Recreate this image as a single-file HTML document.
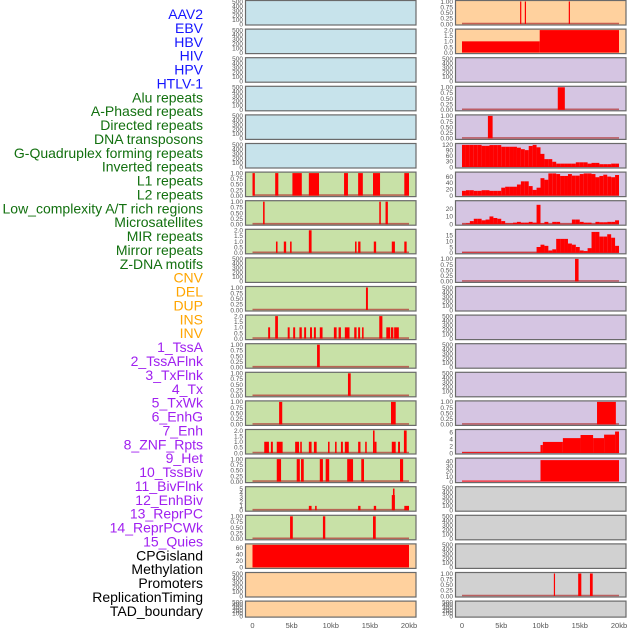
<!DOCTYPE html>
<html><head><meta charset="utf-8">
<style>
html,body{margin:0;padding:0;background:#fff;}
#wrap{position:relative;width:630px;height:630px;overflow:hidden;}
svg text{font-family:"Liberation Sans",sans-serif;}
</style></head>
<body>
<div id="wrap">
<svg id="chart" width="630" height="630" viewBox="0 0 630 630">
<g id="labels"></g>
<g id="panels"></g>
<g id="xaxes"></g>
</svg>
</div>
<script>
// ---- label data ----
const labelNames = ["AAV2","EBV","HBV","HIV","HPV","HTLV-1","Alu repeats","A-Phased repeats","Directed repeats","DNA transposons","G-Quadruplex forming repeats","Inverted repeats","L1 repeats","L2 repeats","Low_complexity A/T rich regions","Microsatellites","MIR repeats","Mirror repeats","Z-DNA motifs","CNV","DEL","DUP","INS","INV","1_TssA","2_TssAFlnk","3_TxFlnk","4_Tx","5_TxWk","6_EnhG","7_Enh","8_ZNF_Rpts","9_Het","10_TssBiv","11_BivFlnk","12_EnhBiv","13_ReprPC","14_ReprPCWk","15_Quies","CPGisland","Methylation","Promoters","ReplicationTiming","TAD_boundary"];
const labelGroups = ["virus","virus","virus","virus","virus","virus","repeat","repeat","repeat","repeat","repeat","repeat","repeat","repeat","repeat","repeat","repeat","repeat","repeat","sv","sv","sv","sv","sv","chrom","chrom","chrom","chrom","chrom","chrom","chrom","chrom","chrom","chrom","chrom","chrom","chrom","chrom","chrom","other","other","other","other","other"];

// ---- x axis ----
const xTickValues = [0,5,10,15,20];
const xTickLabels = ["0","5kb","10kb","15kb","20kb"];

// ---- tick label sets ----
const ticksEmpty = [0,100,200,300,400,500];
const ticksUnit = [0,0.25,0.5,0.75,1];
const ticksUnitLabels = ["0.00","0.25","0.50","0.75","1.00"];
const ticksTwo = [0,0.5,1,1.5,2];
const ticksTwoLabels = ["0.0","0.5","1.0","1.5","2.0"];

// ---- left column data (kb intervals) ----
const L6_starts = [0,2.9,5.1,7.2,11.7,13.5,15.4,19.4];
const L6_ends =   [0.3,3.3,6.3,8.5,12.2,14.1,16.3,20];
const L6_vals =   [1,1,1,1,1,1,1,1];
const L7_starts = [1.35,16.2,17.0];
const L7_ends =   [1.55,16.4,17.3];
const L7_vals =   [1,1,1];
const L8_starts = [3.0,4.0,4.8,7.2,13.1,13.5,15.5,17.8,19.4];
const L8_ends =   [3.2,4.3,5.0,7.55,13.3,13.8,15.8,18.2,19.7];
const L8_vals =   [1,1,1,2,1,1,1,1,1];
const L10_starts = [14.5];
const L10_ends = [14.75];
const L10_vals = [1];
const L11_starts = [2.0,2.9,4.5,5.2,6.0,6.6,7.35,7.85,8.6,10.4,11.0,11.8,13.0,13.5,14.0,16.2,17.1,17.7,18.1];
const L11_ends =   [2.25,3.25,4.75,5.45,6.3,6.85,7.6,8.1,8.95,10.75,11.3,12.4,13.3,13.75,14.2,16.6,17.6,18.0,18.7];
const L11_vals =   [1,2,1,1,1,1,1,1,1,1,1,1,1,1,1,2,1,1,1];
const L12_starts = [8.25];
const L12_ends = [8.6];
const L12_vals = [1];
const L13_starts = [12.2];
const L13_ends = [12.55];
const L13_vals = [1];
const L14_starts = [3.4,17.7];
const L14_ends = [3.8,18.3];
const L14_vals = [1,1];
const L15_starts = [1.5,2.35,3.1,5.45,6.1,7.2,7.85,9.65,10.55,11.3,11.8,13.5,14.4,15.4,15.6,17.8,18.6,19.35];
const L15_ends =   [2.1,2.6,3.85,5.95,6.3,7.55,8.2,9.85,10.75,11.55,12.3,13.8,14.6,15.6,15.85,18.3,18.85,19.7];
const L15_vals =   [1,1,1,1,1,1,1,1,1,1,1,1,1,2,1,1,1,2];
const L16_starts = [3.1,5.65,6.2,8.6,9.35,12.1,13.9,18.85];
const L16_ends =   [3.65,6.05,6.55,9.0,9.8,12.85,14.25,19.25];
const L16_vals =   [1,1,1,1,1,1,1,1];
const L17_starts = [7.2,8.0,13.5,15.5,17.8,17.95,19.4];
const L17_ends =   [7.55,8.2,13.8,15.8,18.2,18.15,20];
const L17_vals =   [1,1,1,1,3.5,5,1];
const L18_starts = [4.8,9.0,15.4];
const L18_ends = [5.15,9.3,15.75];
const L18_vals = [1,1,1];
const L19_starts = [0];
const L19_ends = [20];
const L19_vals = [68];

// ---- right column data ----
const R0_starts = [7.4,8.0,13.6];
const R0_ends = [7.5,8.15,13.7];
const R0_vals = [1,1,1];
const R1_starts = [0,9.9];
const R1_ends = [9.9,20];
const R1_vals = [1,2];
const R3_starts = [12.2];
const R3_ends = [13.1];
const R3_vals = [1];
const R4_starts = [3.3];
const R4_ends = [3.9];
const R4_vals = [1];
const R5_bins = [118,118,118,118,118,113,113,117,117,117,108,108,108,108,103,95,90,112,118,105,70,42,42,28,18,18,18,18,18,25,25,25,18,22,22,15,15,15,18,18];
const R6_bins = [15,17,17,15,15,17,17,15,15,15,25,28,28,28,35,45,45,30,18,25,55,50,70,70,68,62,62,68,63,63,68,70,70,68,58,62,66,60,58,65];
const R7_bins = [0.5,1,4,7,7,5,6,10,8,7,4,1,1,2,3,2,2,3,2,25,1,3,0.5,3,3,0.5,0.5,0.5,6,6,3,2,2,0.5,3,2.5,2.5,3,3,5];
const R8_bins = [0.3,0.3,0.3,0.3,0.3,0.3,0.3,0.3,0.3,0.3,0.3,0.3,0.3,0.3,0.3,0.3,0.3,0.3,0.3,5,7,6,2,3,12,12,12,8,7,5,2,1.5,4,18,18,14,14,16,13,6];
const R9_starts = [14.4];
const R9_ends = [14.85];
const R9_vals = [1];
const R14_starts = [17.2];
const R14_ends = [19.6];
const R14_vals = [1];
const R15_starts = [0,10,10.3,12.85,15.1,16.7,18.1,19.5];
const R15_ends =   [10,10.3,12.85,15.1,16.7,18.1,19.5,20];
const R15_vals =   [0.2,2.3,3.2,4.3,5.2,4.3,5.3,6.2];
const R16_starts = [0,10];
const R16_ends = [10,20];
const R16_vals = [2,42];
const R20_starts = [11.7,14.8,16.3];
const R20_ends = [11.85,15.2,16.65];
const R20_vals = [1,1,1];
const binWidthKb = 0.5;

function binsToStarts(b){return b.map((v,i)=>i*binWidthKb);}
function binsToEnds(b){return b.map((v,i)=>(i+1)*binWidthKb);}

const NS="http://www.w3.org/2000/svg";
function mk(tag,attrs,parent){const e=document.createElementNS(NS,tag);for(const k in attrs)e.setAttribute(k,attrs[k]);parent.appendChild(e);return e;}

const groupColor={virus:"#1515ff",repeat:"#12700f",sv:"#ffa500",chrom:"#a020f0",other:"#000000"};
const bgColor={blue:"#c7e3eb",green:"#c8e1a7",peach:"#ffd19e",purple:"#d5c5e2",gray:"#d1d1d1"};

// labels
const gl=document.getElementById('labels');
labelNames.forEach((n,i)=>{
  const t=mk('text',{x:203,y:14+13.88*i+5,'text-anchor':'end','font-size':'14',fill:groupColor[labelGroups[i]]},gl);
  t.textContent=n;
  
  
});

// panel configs
function panelsFor(col){
  const P=[];
  for(let r=0;r<22;r++){
    let bg,ymax=500,ticks=ticksEmpty,tl=null,s=null,e=null,v=null,base=false;
    if(col===0){
      bg = r<6?'blue':(r<19?'green':'peach');
      const D={6:[L6_starts,L6_ends,L6_vals],7:[L7_starts,L7_ends,L7_vals],8:[L8_starts,L8_ends,L8_vals],10:[L10_starts,L10_ends,L10_vals],11:[L11_starts,L11_ends,L11_vals],12:[L12_starts,L12_ends,L12_vals],13:[L13_starts,L13_ends,L13_vals],14:[L14_starts,L14_ends,L14_vals],15:[L15_starts,L15_ends,L15_vals],16:[L16_starts,L16_ends,L16_vals],17:[L17_starts,L17_ends,L17_vals],18:[L18_starts,L18_ends,L18_vals],19:[L19_starts,L19_ends,L19_vals]};
      if(D[r]){[s,e,v]=D[r];base=true;}
      if([6,7,10,12,13,14,16,18].includes(r)){ymax=1;ticks=ticksUnit;tl=ticksUnitLabels;}
      if([8,11,15].includes(r)){ymax=2;ticks=ticksTwo;tl=ticksTwoLabels;}
      if(r===17){ymax=5.2;ticks=[0,1,2,3,4,5];}
      if(r===19){ymax=68;ticks=[0,20,40,60];base=false;}
    } else {
      bg = r<2?'peach':(r<17?'purple':'gray');
      const D={0:[R0_starts,R0_ends,R0_vals],1:[R1_starts,R1_ends,R1_vals],3:[R3_starts,R3_ends,R3_vals],4:[R4_starts,R4_ends,R4_vals],
        5:[binsToStarts(R5_bins),binsToEnds(R5_bins),R5_bins],6:[binsToStarts(R6_bins),binsToEnds(R6_bins),R6_bins],
        7:[binsToStarts(R7_bins),binsToEnds(R7_bins),R7_bins],8:[binsToStarts(R8_bins),binsToEnds(R8_bins),R8_bins],
        9:[R9_starts,R9_ends,R9_vals],14:[R14_starts,R14_ends,R14_vals],15:[R15_starts,R15_ends,R15_vals],16:[R16_starts,R16_ends,R16_vals],20:[R20_starts,R20_ends,R20_vals]};
      if(D[r]){[s,e,v]=D[r];base=true;}
      if([0,3,4,9,14,20].includes(r)){ymax=1;ticks=ticksUnit;tl=ticksUnitLabels;}
      if(r===1){ymax=2;ticks=ticksTwo;tl=ticksTwoLabels;base=false;}
      if(r===5){ymax=120;ticks=[0,30,60,90,120];}
      if(r===6){ymax=71;ticks=[0,20,40,60];}
      if(r===7){ymax=29;ticks=[0,10,20];}
      if(r===8){ymax=19.4;ticks=[0,5,10,15];}
      if(r===15){ymax=6.5;ticks=[0,2,4,6];}
      if(r===16){ymax=44;ticks=[0,10,20,30,40];base=false;}
    }
    P.push({r,bg,ymax,ticks,tl,s,e,v,base});
  }
  return P;
}

const gp=document.getElementById('panels');
[0,1].forEach(col=>{
  const px = col===0?245.5:455.5, pw=170.5;
  const x0 = col===0?252.5:462, kbw = col===0?7.825:7.85;
  const xs = kb=>x0+kb*kbw;
  panelsFor(col).forEach(p=>{
    const top=0.5+28.6*p.r, h=p.r===21?16:24.5, bot=top+h;
    const ys = val=>bot-1-val/p.ymax*(h-2);
    const g=mk('g',{},gp);
    
    
    mk('rect',{x:px,y:top,width:pw,height:h,fill:bgColor[p.bg]},g);
    if(p.base){
      const bl=mk('line',{x1:xs(0),x2:xs(20),y1:bot-1.5,y2:bot-1.5,stroke:'#b03030','stroke-width':'1.6','stroke-opacity':'0.7'},g);
      
      
    }
    if(p.s){
      p.s.forEach((st,i)=>{
        const a=xs(st), b=xs(p.e[i]);
        const w=Math.max(b-a,1.2);
        const rc=mk('rect',{x:a,y:ys(p.v[i]),width:w,height:bot-1-ys(p.v[i]),fill:'#ff0000'},g);
        
        
      });
    }
    mk('rect',{x:px,y:top,width:pw,height:h,fill:'none',stroke:'#6a6a6a','stroke-width':'1.2'},g);
    p.ticks.forEach((tv,i)=>{
      const t=mk('text',{x:px-2.5,y:ys(tv)+2.3,'text-anchor':'end','font-size':'6.5',fill:'#555'},g);
      t.textContent = p.tl?p.tl[i]:String(tv);
      
      
    });
  });
  const gx=document.getElementById('xaxes');
  xTickValues.forEach((tv,i)=>{
    const t=mk('text',{x:xs(tv),y:628,'text-anchor':'middle','font-size':'7.5',fill:'#555'},gx);
    t.textContent=xTickLabels[i];
    
    
  });
});
</script>
</body></html>
